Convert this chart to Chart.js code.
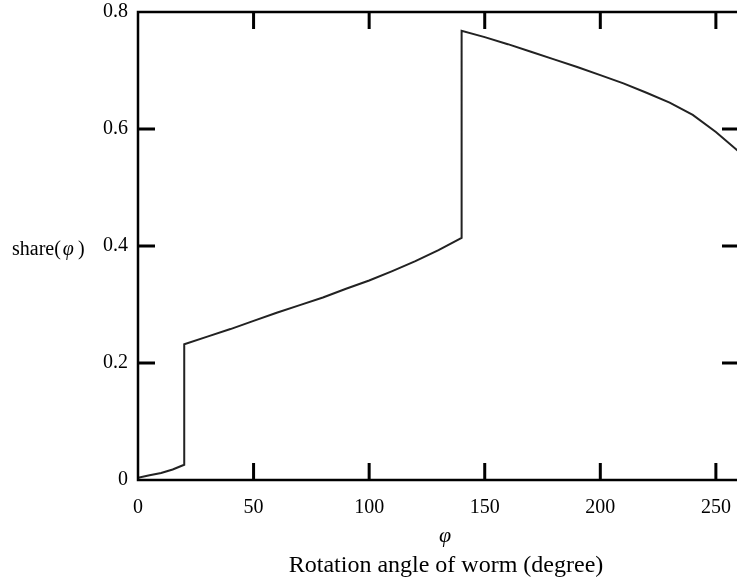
<!DOCTYPE html>
<html>
<head>
<meta charset="utf-8">
<script src="https://cdn.jsdelivr.net/npm/chart.js@4.4.1/dist/chart.umd.min.js"></script>
<style>
  html, body { margin: 0; padding: 0; background: #fff; overflow: hidden; }
</style>
</head>
<body>
<canvas id="shareChart" width="760" height="583"></canvas>
<script>
// rotation angle of worm (degree)
var phi = [0, 5, 10, 15, 20, 20, 30, 40, 50, 60, 70, 80, 90, 100, 110, 120, 130, 140,
           140, 150, 160, 170, 180, 190, 200, 210, 220, 230, 240, 250, 260];
// share(phi)
var share = [0.004, 0.008, 0.012, 0.018, 0.026, 0.232, 0.245, 0.258, 0.272, 0.286, 0.299, 0.312, 0.327, 0.341, 0.357, 0.374, 0.393, 0.414,
             0.768, 0.757, 0.745, 0.732, 0.719, 0.706, 0.692, 0.678, 0.662, 0.645, 0.624, 0.595, 0.561];
var xTicks = [0, 50, 100, 150, 200, 250];
var yTicks = [0, 0.2, 0.4, 0.6, 0.8];

var serif = '"Liberation Serif", "Times New Roman", serif';

// frame, inward ticks and the free texts
var framePlugin = {
  id: 'frame',
  afterDraw: function(chart) {
    var ctx = chart.ctx, a = chart.chartArea;
    var xs = chart.scales.x, ys = chart.scales.y;
    ctx.save();
    ctx.strokeStyle = '#000';
    ctx.lineWidth = 2.5;
    ctx.beginPath();
    ctx.moveTo(a.right + 20, a.top); ctx.lineTo(a.left, a.top);
    ctx.lineTo(a.left, a.bottom); ctx.lineTo(a.right + 20, a.bottom);
    ctx.stroke();
    ctx.lineWidth = 3;
    ctx.beginPath();
    xTicks.forEach(function(v) {
      if (v === 0) return;
      var px = xs.getPixelForValue(v);
      ctx.moveTo(px, a.top); ctx.lineTo(px, a.top + 17);
      ctx.moveTo(px, a.bottom); ctx.lineTo(px, a.bottom - 17);
    });
    yTicks.forEach(function(v) {
      if (v === 0 || v === 0.8) return;
      var py = ys.getPixelForValue(v);
      ctx.moveTo(a.left, py); ctx.lineTo(a.left + 17, py);
      ctx.moveTo(a.right, py); ctx.lineTo(a.right - 17, py);
    });
    ctx.stroke();

    ctx.fillStyle = '#000';
    ctx.textBaseline = 'alphabetic';
    // y label: share(φ)
    var py4 = ys.getPixelForValue(0.4) + 9;
    var x0 = 12;
    ctx.textAlign = 'left';
    ctx.font = '20px ' + serif;
    ctx.fillText('share(', x0, py4);
    x0 += ctx.measureText('share(').width + 2;
    ctx.font = 'italic 20px ' + serif;
    ctx.fillText('φ', x0, py4);
    x0 += ctx.measureText('φ').width + 4;
    ctx.font = '20px ' + serif;
    ctx.fillText(')', x0, py4);

    // x title lines
    ctx.textAlign = 'center';
    ctx.font = 'italic 22px ' + serif;
    ctx.fillText('φ', 445, 542);
    ctx.font = '24px ' + serif;
    ctx.fillText('Rotation angle of worm (degree)', 446, 572);
    ctx.restore();
  }
};

var ctx = document.getElementById('shareChart').getContext('2d');
var shareChart = new Chart(ctx, {
  type: 'scatter',
  data: {
    datasets: [{
      data: phi.map(function(p, i) { return { x: p, y: share[i] }; }),
      showLine: true,
      borderColor: '#222',
      borderWidth: 2,
      pointRadius: 0,
      tension: 0
    }]
  },
  options: {
    responsive: false,
    animation: false,
    layout: { padding: { top: 12, right: 21, left: 0, bottom: 0 } },
    plugins: { legend: { display: false }, tooltip: { enabled: false } },
    scales: {
      x: {
        type: 'linear',
        min: 0,
        max: 260,
        grid: { display: false, drawTicks: false },
        border: { display: false },
        afterBuildTicks: function(scale) {
          scale.ticks = xTicks.map(function(v) { return { value: v }; });
        },
        afterFit: function(scale) {
          scale.height = 103;
          scale.paddingLeft = 0;
          scale.paddingRight = 0;
        },
        ticks: {
          padding: 16,
          color: '#000',
          font: { family: serif, size: 20 }
        }
      },
      y: {
        type: 'linear',
        min: 0,
        max: 0.8,
        grid: { display: false, drawTicks: false },
        border: { display: false },
        afterBuildTicks: function(scale) {
          scale.ticks = yTicks.map(function(v) { return { value: v }; });
        },
        afterFit: function(scale) {
          scale.width = 138;
          scale.paddingTop = 0;
          scale.paddingBottom = 0;
        },
        ticks: {
          padding: 10,
          color: '#000',
          font: { family: serif, size: 20 }
        }
      }
    }
  },
  plugins: [framePlugin]
});
</script>
</body>
</html>
